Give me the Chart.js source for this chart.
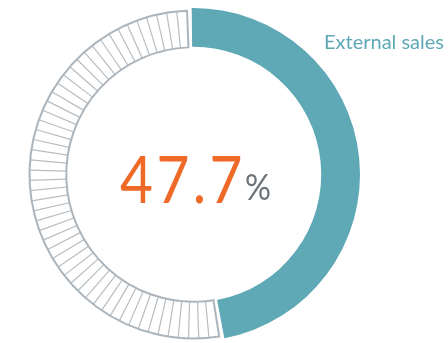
<!DOCTYPE html>
<html>
<head>
<meta charset="utf-8">
<script src="https://cdn.jsdelivr.net/npm/chart.js@4.4.1/dist/chart.umd.min.js"></script>
<style>
html,body{margin:0;padding:0;background:#fff;overflow:hidden;}
#c{display:block;}
</style>
</head>
<body>
<canvas id="c" width="448" height="343"></canvas>
<script>
const categories = ["External sales", "Other"];
const values = [47.7, 52.3];
const centerValue = "47.7";
const centerUnit = "%";
const hatchCells = 52;

const TEAL = "#5fa8b5";
const ORANGE = "#ef6a27";
const GREY_TXT = "#6c7479";
const HATCH_BORDER = "#adb5bc";
const HATCH_LINE = "#b6bdc3";

const hatchPlugin = {
  id: "hatch",
  afterDatasetDraw(chart, args) {
    const meta = chart.getDatasetMeta(args.index);
    const arc = meta.data[1];
    if (!arc) return;
    const p = arc.getProps(["x","y","startAngle","endAngle","innerRadius","outerRadius"], true);
    const ctx = chart.ctx;
    ctx.save();
    const a0 = p.startAngle + 2.2 / p.outerRadius;
    const a1 = p.endAngle - 2.2 / p.outerRadius;
    const rO = p.outerRadius - 1;
    const rI = p.innerRadius + 1;
    ctx.strokeStyle = HATCH_LINE;
    ctx.lineWidth = 1.2;
    const step = (a1 - a0) / hatchCells;
    for (let i = 1; i < hatchCells; i++) {
      const a = a0 + i * step;
      ctx.beginPath();
      ctx.moveTo(p.x + Math.cos(a) * rI, p.y + Math.sin(a) * rI);
      ctx.lineTo(p.x + Math.cos(a) * rO, p.y + Math.sin(a) * rO);
      ctx.stroke();
    }
    ctx.strokeStyle = HATCH_BORDER;
    ctx.lineWidth = 2;
    ctx.beginPath();
    ctx.arc(p.x, p.y, rO, a0, a1);
    ctx.lineTo(p.x + Math.cos(a1) * rI, p.y + Math.sin(a1) * rI);
    ctx.arc(p.x, p.y, rI, a1, a0, true);
    ctx.closePath();
    ctx.stroke();
    ctx.restore();
  }
};

const centerPlugin = {
  id: "centerText",
  afterDraw(chart) {
    const meta = chart.getDatasetMeta(0);
    const arc = meta.data[0];
    const ctx = chart.ctx;
    ctx.save();
    const bigFont = "400 66px Lato";
    const smallFont = "400 36px Lato";
    const sx = 0.86;
    ctx.font = bigFont;
    ctx.letterSpacing = "4px";
    const w1 = ctx.measureText(centerValue).width * sx;
    ctx.font = smallFont;
    ctx.letterSpacing = "0px";
    const w2 = ctx.measureText(centerUnit).width * 0.9;
    const gap = -1;
    const total = w1 + gap + w2;
    const x0 = arc.x - total / 2 + 2;
    const baseY = arc.y + 28;
    ctx.textBaseline = "alphabetic";
    ctx.textAlign = "left";
    ctx.save();
    ctx.translate(x0, baseY);
    ctx.scale(sx, 1);
    ctx.font = bigFont;
    ctx.letterSpacing = "4px";
    ctx.fillStyle = ORANGE;
    ctx.fillText(centerValue, 0, 0);
    ctx.restore();
    ctx.save();
    ctx.translate(x0 + w1 + gap, baseY - 3);
    ctx.scale(0.9, 1);
    ctx.font = smallFont;
    ctx.letterSpacing = "0px";
    ctx.fillStyle = GREY_TXT;
    ctx.fillText(centerUnit, 0, 0);
    ctx.restore();
    ctx.font = "400 20px Lato";
    ctx.fillStyle = TEAL;
    ctx.textAlign = "right";
    ctx.fillText(categories[0], chart.width - 4, 49);
    ctx.restore();
  }
};

new Chart(document.getElementById("c"), {
  type: "doughnut",
  data: {
    labels: categories,
    datasets: [{
      data: values,
      backgroundColor: [TEAL, "#ffffff"],
      borderWidth: 0,
      spacing: 3
    }]
  },
  options: {
    responsive: false,
    animation: false,
    cutout: "76.5%",
    rotation: -1.5,
    layout: { padding: { left: 27, right: 88, top: 7, bottom: 1 } },
    plugins: { legend: { display: false }, tooltip: { enabled: false } },
    events: []
  },
  plugins: [hatchPlugin, centerPlugin]
});
</script>
</body>
</html>
